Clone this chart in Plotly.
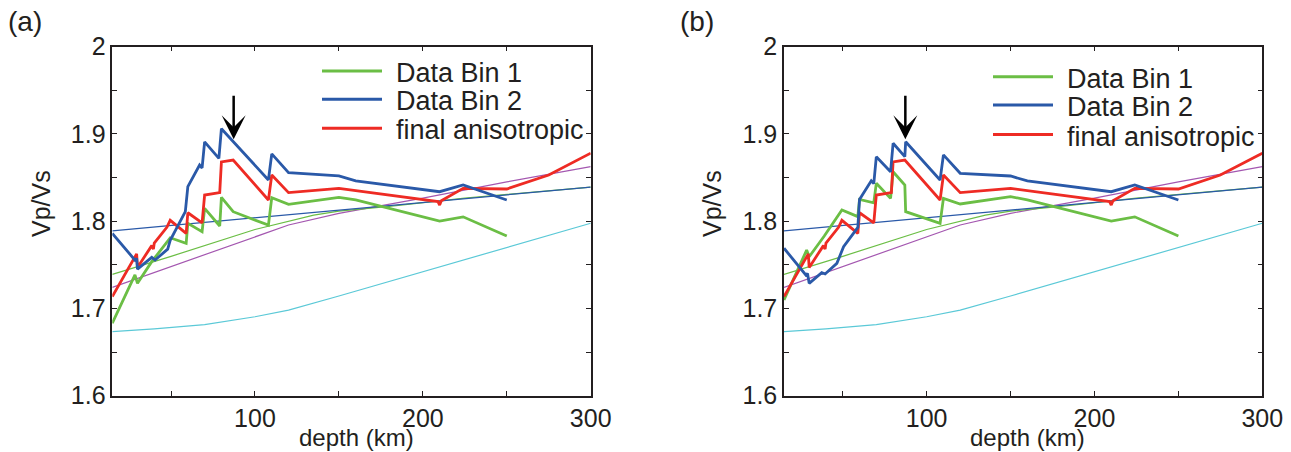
import plotly.graph_objects as go

W, H = 1291, 452

# ---------------- data ----------------
# reference (thin) models, shared by both panels
ref_blue_x = [15, 300]
ref_blue_y = [1.789, 1.839]

ref_green_x = [15, 50, 100, 120, 135, 150, 180, 225, 300]
ref_green_y = [1.739, 1.7597, 1.7905, 1.800, 1.807, 1.8115, 1.817, 1.8265, 1.839]

ref_purple_x = [15, 50, 100, 120, 150, 200, 250, 300]
ref_purple_y = [1.7242, 1.748, 1.7815, 1.7956, 1.809, 1.8265, 1.845, 1.8625]

ref_cyan_x = [15, 40, 70, 100, 120, 150, 300]
ref_cyan_y = [1.6734, 1.6765, 1.6815, 1.6905, 1.698, 1.7143, 1.7976]

# final anisotropic model (same in both panels)
final_x = [15, 28.5, 29.5, 30, 38.5, 39.5, 40, 47.5, 49.5, 59, 60, 68.5, 70, 79, 80, 87,
           108, 110, 120, 150, 160, 209, 210, 211, 224, 250, 275, 300]
final_y = [1.7136, 1.758, 1.7625, 1.747, 1.772, 1.768, 1.775, 1.793, 1.801, 1.786, 1.8097,
           1.798, 1.830, 1.8328, 1.868, 1.870, 1.8243, 1.853, 1.8327, 1.8376, 1.835,
           1.8225, 1.8185, 1.8235, 1.8377, 1.8369, 1.853, 1.878]

# panel (a) data bins
a_bin1_x = [15, 28.5, 30, 38.5, 49.5, 59, 60, 68.5, 70, 79, 80, 87, 108, 110, 120,
            150, 160, 210, 224, 250]
a_bin1_y = [1.683, 1.7384, 1.7288, 1.7536, 1.781, 1.7746, 1.7975, 1.788, 1.8147, 1.7945,
            1.8273, 1.8109, 1.7955, 1.827, 1.8193, 1.8273, 1.8245, 1.8002, 1.805, 1.783]

a_bin2_x = [15, 28.5, 29.5, 30, 38.5, 40.5, 48, 49.5, 58.5, 60, 67, 68.5, 70, 78.5, 80,
            108, 110, 120, 150, 160, 210, 224, 250]
a_bin2_y = [1.786, 1.7554, 1.7573, 1.745, 1.7586, 1.7555, 1.768, 1.778, 1.811, 1.8396,
            1.8644, 1.861, 1.891, 1.872, 1.906, 1.8473, 1.8771, 1.8556, 1.852, 1.8462,
            1.8338, 1.8415, 1.8243]

# panel (b) data bins
b_bin1_x = [15, 28.5, 30, 39, 49.5, 59, 60, 68.5, 70, 78.5, 80, 87, 87.5, 108, 110, 120,
            150, 160, 210, 224, 250]
b_bin1_y = [1.7097, 1.7669, 1.7593, 1.783, 1.8128, 1.8052, 1.8249, 1.8211, 1.8434, 1.8262,
            1.8567, 1.8415, 1.8109, 1.7975, 1.8262, 1.8197, 1.8281, 1.8245, 1.8002, 1.805,
            1.783]

b_bin2_x = [15, 28, 29, 30, 37.5, 39.5, 46.5, 50.5, 59, 60, 67, 68.5, 70, 78.5, 80, 87,
            87.5, 108, 110, 120, 150, 160, 210, 224, 250]
b_bin2_y = [1.769, 1.7384, 1.740, 1.7288, 1.741, 1.7395, 1.7517, 1.7707, 1.7929, 1.8249,
            1.8463, 1.8432, 1.8738, 1.8566, 1.8893, 1.874, 1.8911, 1.8472, 1.876, 1.8549,
            1.8518, 1.8462, 1.8338, 1.8415, 1.8243]

arrow_depth = 87.3
arrow_value = 1.894

legend_labels = ["Data Bin 1", "Data Bin 2", "final anisotropic"]
panel_labels = ["(a)", "(b)"]

# ---------------- styles ----------------
GREEN = "#6BBE45"
BLUE = "#2A59A8"
RED = "#EE2B24"
PURPLE = "#A457B0"
CYAN = "#5BC9D7"
BLACK = "#231F20"
FONT = "Liberation Sans, Arial, Helvetica, sans-serif"

fig = go.Figure()

panels = [
    ("x", "y", a_bin1_x, a_bin1_y, a_bin2_x, a_bin2_y),
    ("x2", "y2", b_bin1_x, b_bin1_y, b_bin2_x, b_bin2_y),
]

for xa, ya, g_x, g_y, bl_x, bl_y in panels:
    for xs, ys, c in [(ref_cyan_x, ref_cyan_y, CYAN), (ref_purple_x, ref_purple_y, PURPLE),
                      (ref_green_x, ref_green_y, GREEN), (ref_blue_x, ref_blue_y, BLUE)]:
        fig.add_trace(go.Scatter(x=xs, y=ys, mode="lines", xaxis=xa, yaxis=ya,
                                 line=dict(color=c, width=1.2), showlegend=False,
                                 hoverinfo="skip"))
    fig.add_trace(go.Scatter(x=g_x, y=g_y, mode="lines", xaxis=xa, yaxis=ya,
                             line=dict(color=GREEN, width=2.8), showlegend=False))
    fig.add_trace(go.Scatter(x=final_x, y=final_y, mode="lines", xaxis=xa, yaxis=ya,
                             line=dict(color=RED, width=2.8), showlegend=False))
    fig.add_trace(go.Scatter(x=bl_x, y=bl_y, mode="lines", xaxis=xa, yaxis=ya,
                             line=dict(color=BLUE, width=2.8), showlegend=False))


def px(x):
    return x / W


def py(y):
    return 1 - y / H


plot_top, plot_bot = 46.7, 395.7
dom_y = [py(plot_bot), py(plot_top)]
dom_a = [px(112.3), px(590.7)]
dom_b = [px(784.0), px(1262.3)]

xtickvals = [50, 100, 150, 200, 250, 300]
xticktext = ["", "100", "", "200", "", "300"]
ytickvals = [1.6, 1.65, 1.7, 1.75, 1.8, 1.85, 1.9, 1.95, 2.0]
yticktext = ["1.6", "", "1.7", "", "1.8", "", "1.9", "", "2"]

axis_common = dict(showline=True, linecolor=BLACK, linewidth=1.5, mirror="allticks",
                   ticks="inside", ticklen=5, tickwidth=1.2, tickcolor=BLACK,
                   showgrid=False, zeroline=False, automargin=False,
                   tickfont=dict(family=FONT, size=25, color=BLACK))

xa_common = dict(axis_common, range=[15, 300], tickmode="array", tickvals=xtickvals,
                 ticktext=xticktext)
ya_common = dict(axis_common, range=[1.6, 2.0], tickmode="array", tickvals=ytickvals,
                 ticktext=yticktext)

fig.update_layout(
    width=W, height=H,
    margin=dict(l=0, r=0, t=0, b=0, pad=0, autoexpand=False),
    paper_bgcolor="white", plot_bgcolor="white",
    showlegend=False,
    xaxis=dict(xa_common, domain=dom_a, anchor="y"),
    yaxis=dict(ya_common, domain=dom_y, anchor="x"),
    xaxis2=dict(xa_common, domain=dom_b, anchor="y2"),
    yaxis2=dict(ya_common, domain=dom_y, anchor="x2"),
)

annotations = []
shapes = []

# panel labels, axis titles
for lab, lx, vx, dx in [(panel_labels[0], 25, 41, 356), (panel_labels[1], 697, 712, 1027)]:
    annotations.append(dict(text=lab, x=px(lx), y=py(21), xref="paper", yref="paper",
                            showarrow=False, xanchor="center", yanchor="middle",
                            font=dict(family=FONT, size=28, color=BLACK)))
    annotations.append(dict(text="Vp/Vs", x=px(vx), y=py(204), xref="paper", yref="paper",
                            showarrow=False, xanchor="center", yanchor="middle",
                            textangle=-90, font=dict(family=FONT, size=25, color=BLACK)))
    annotations.append(dict(text="depth (km)", x=px(dx), y=py(437), xref="paper", yref="paper",
                            showarrow=False, xanchor="center", yanchor="middle",
                            font=dict(family=FONT, size=24, color=BLACK)))

# legends (drawn manually)
legend_pos = [(322, 382, 394, [71, 99.3, 128.3]), (993, 1053, 1065, [76.7, 105, 134.5])]
for x0, x1, tx, ys in legend_pos:
    for lab, c, yy in zip(legend_labels, [GREEN, BLUE, RED], ys):
        shapes.append(dict(type="line", xref="paper", yref="paper", x0=px(x0), x1=px(x1),
                           y0=py(yy), y1=py(yy), line=dict(color=c, width=3)))
        annotations.append(dict(text=lab, x=px(tx), y=py(yy + 2), xref="paper", yref="paper",
                                showarrow=False, xanchor="left", yanchor="middle",
                                font=dict(family=FONT, size=27, color=BLACK)))

# arrows
for xr, yr in [("x", "y"), ("x2", "y2")]:
    annotations.append(dict(text="", x=arrow_depth, y=arrow_value, xref=xr, yref=yr,
                            showarrow=True, ax=0, ay=-45, arrowhead=3, arrowsize=1.6,
                            arrowwidth=2.5, arrowcolor="black", standoff=0))

fig.update_layout(annotations=annotations, shapes=shapes)

fig.write_html("out.html")
